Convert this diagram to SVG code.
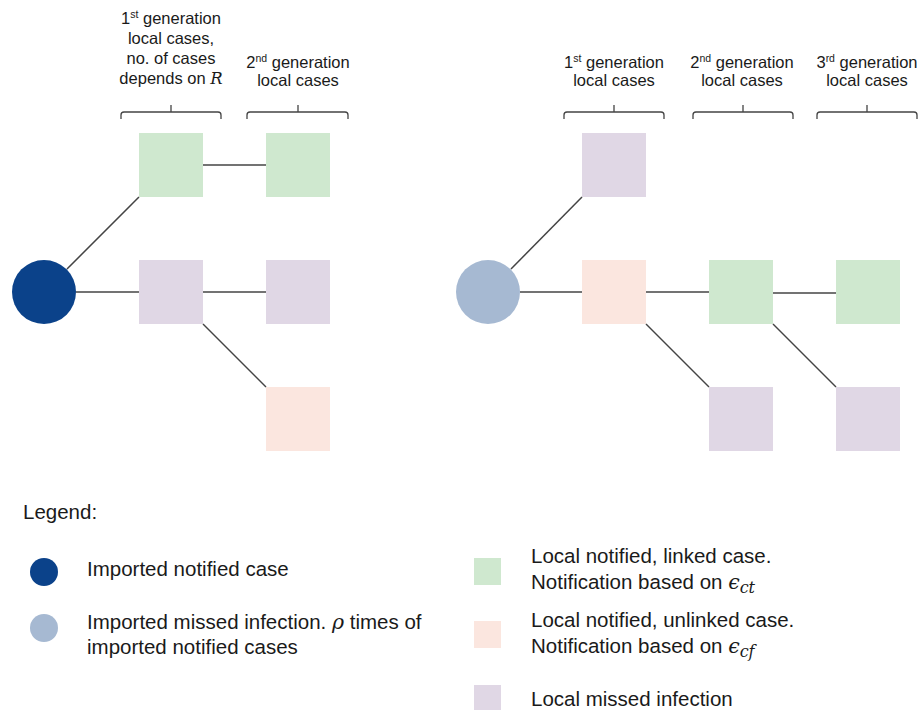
<svg xmlns="http://www.w3.org/2000/svg" width="919" height="710" viewBox="0 0 919 710">
<style>
.t{font-family:"Liberation Sans",Arial,sans-serif;fill:#1a1a1a}
.h{font-size:16.5px;text-anchor:middle}
.lg{font-size:20.5px}
.m{font-family:"DejaVu Serif","Liberation Serif",serif;font-style:italic}
.sup{font-size:10.5px}
.g{fill:#cfe8cf}
.p{fill:#e0d7e5}
.o{fill:#fbe6df}
.c{stroke:#444;stroke-width:1.5;fill:none}
.br{stroke:#444;stroke-width:1.3;fill:none}
</style>
<rect width="919" height="710" fill="#ffffff"/>
<g id="labels">
<text class="t h" x="171" y="24">1<tspan class="sup" dy="-6">st</tspan><tspan dy="6"> generation</tspan></text>
<text class="t h" x="171" y="44">local cases,</text>
<text class="t h" x="171" y="64">no. of cases</text>
<text class="t h" x="171" y="84">depends on <tspan class="m">R</tspan></text>
<text class="t h" x="298" y="68">2<tspan class="sup" dy="-6">nd</tspan><tspan dy="6"> generation</tspan></text>
<text class="t h" x="298" y="86">local cases</text>
<text class="t h" x="614" y="68">1<tspan class="sup" dy="-6">st</tspan><tspan dy="6"> generation</tspan></text>
<text class="t h" x="614" y="86">local cases</text>
<text class="t h" x="742" y="68">2<tspan class="sup" dy="-6">nd</tspan><tspan dy="6"> generation</tspan></text>
<text class="t h" x="742" y="86">local cases</text>
<text class="t h" x="867" y="68">3<tspan class="sup" dy="-6">rd</tspan><tspan dy="6"> generation</tspan></text>
<text class="t h" x="867" y="86">local cases</text>
</g>
<g id="brackets">
<path class="br" d="M121 119 V115 Q121 112 124 112 H218 Q221 112 221 115 V119 M171 112 V105"/>
<path class="br" d="M247 119 V115 Q247 112 250 112 H345 Q348 112 348 115 V119 M298 112 V105"/>
<path class="br" d="M564 119 V115 Q564 112 567 112 H661 Q664 112 664 115 V119 M614 112 V105"/>
<path class="br" d="M693 119 V115 Q693 112 696 112 H790 Q793 112 793 115 V119 M743 112 V105"/>
<path class="br" d="M817 119 V115 Q817 112 820 112 H914 Q917 112 917 115 V119 M867 112 V105"/>
</g>
<g id="connectors">
<line class="c" x1="67" y1="269" x2="139" y2="197"/>
<line class="c" x1="76" y1="292" x2="139" y2="292"/>
<line class="c" x1="203" y1="165" x2="266" y2="165"/>
<line class="c" x1="203" y1="292" x2="266" y2="292"/>
<line class="c" x1="203" y1="324" x2="266" y2="387"/>
<line class="c" x1="511" y1="269" x2="582" y2="197"/>
<line class="c" x1="520" y1="292" x2="582" y2="292"/>
<line class="c" x1="646" y1="292" x2="709" y2="292"/>
<line class="c" x1="773" y1="293" x2="836" y2="293"/>
<line class="c" x1="646" y1="324" x2="709" y2="387"/>
<line class="c" x1="773" y1="324" x2="836" y2="387"/>
</g>
<g id="left-imported"><circle cx="44" cy="292" r="32" fill="#0b428a"/></g>
<g id="left-g1-linked"><rect class="g" x="139" y="133" width="64" height="64"/></g>
<g id="left-g2-linked"><rect class="g" x="266" y="133" width="64" height="64"/></g>
<g id="left-g1-missed"><rect class="p" x="139" y="260" width="64" height="64"/></g>
<g id="left-g2-missed"><rect class="p" x="266" y="260" width="64" height="64"/></g>
<g id="left-g2-unlinked"><rect class="o" x="266" y="387" width="64" height="64"/></g>
<g id="right-imported"><circle cx="488" cy="292" r="32" fill="#a6b9d2"/></g>
<g id="right-g1-missed"><rect class="p" x="582" y="133" width="64" height="64"/></g>
<g id="right-g1-unlinked"><rect class="o" x="582" y="260" width="64" height="64"/></g>
<g id="right-g2-linked"><rect class="g" x="709" y="260" width="64" height="64"/></g>
<g id="right-g3-linked"><rect class="g" x="836" y="260" width="64" height="64"/></g>
<g id="right-g2-missed"><rect class="p" x="709" y="387" width="64" height="64"/></g>
<g id="right-g3-missed"><rect class="p" x="836" y="387" width="64" height="64"/></g>
<g id="legend">
<text class="t lg" x="23" y="519">Legend:</text>
<circle cx="44" cy="572" r="14" fill="#0b428a"/>
<text class="t lg" x="87" y="576">Imported notified case</text>
<circle cx="44" cy="628" r="14" fill="#a6b9d2"/>
<text class="t lg" x="87" y="629">Imported missed infection. <tspan class="m">ρ</tspan> times of</text>
<text class="t lg" x="87" y="654">imported notified cases</text>
<rect class="g" x="474" y="558" width="27" height="27"/>
<text class="t lg" x="531" y="563">Local notified, linked case.</text>
<text class="t lg" x="531" y="589">Notification based on <tspan class="m">ϵ</tspan><tspan class="m" font-size="16" dy="4">ct</tspan></text>
<rect class="o" x="474" y="621" width="27" height="27"/>
<text class="t lg" x="531" y="627">Local notified, unlinked case.</text>
<text class="t lg" x="531" y="653">Notification based on <tspan class="m">ϵ</tspan><tspan class="m" font-size="16" dy="4">cf</tspan></text>
<rect class="p" x="474" y="685" width="27" height="27"/>
<text class="t lg" x="531" y="706">Local missed infection</text>
</g>
</svg>
